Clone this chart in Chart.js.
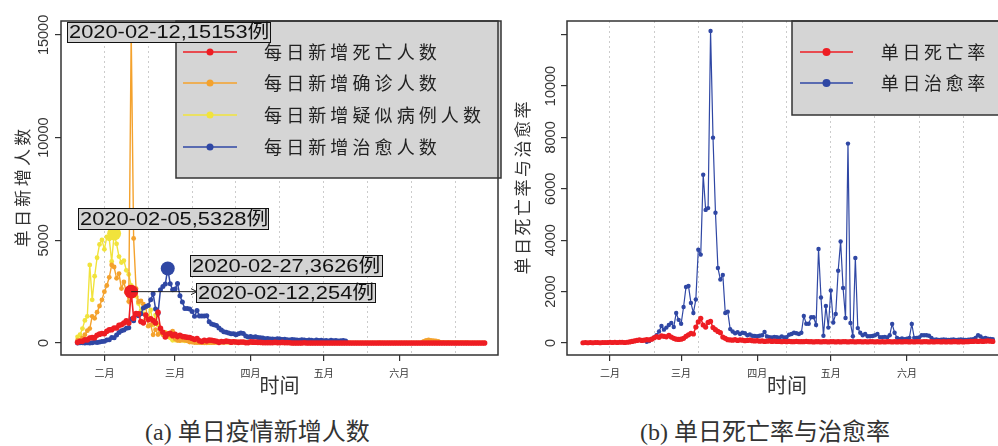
<!DOCTYPE html>
<html>
<head>
<meta charset="utf-8">
<script src="https://cdn.jsdelivr.net/npm/chart.js@4.4.1/dist/chart.umd.min.js"></script>
<style>
  html, body { margin: 0; padding: 0; background: #fff; }
  body { width: 998px; height: 446px; overflow: hidden; position: relative; }
  canvas { position: absolute; top: 0; }
  #chartA { left: 0; }
  #chartB { left: 505px; }
  .caption { position: absolute; top: 419px; font-size: 24px; line-height: 26px; color: #333;
    font-family: "Liberation Serif", "Noto Sans CJK SC", serif; white-space: nowrap; }
</style>
</head>
<body>
<canvas id="chartA" width="505" height="400"></canvas>
<canvas id="chartB" width="510" height="400"></canvas>
<div class="caption" style="left:145px">(a) 单日疫情新增人数</div>
<div class="caption" style="left:640px">(b) 单日死亡率与治愈率</div>
<script>
// x axis = day of year 2020 (Jan 1 = 0)
const monthDays = [31, 60, 91, 121, 152];
const monthLabels = ['二月', '三月', '四月', '五月', '六月'];
const gridDays = [31, 49, 67, 85, 103, 121, 139, 157, 175];

// (a) daily new counts, starting 2020-01-21
const startA = '2020-01-21';
const newDeaths = [
  30, 80, 80, 160, 150, 240, 260, 260, 380, 430,
  460, 450, 570, 640, 650, 730, 730, 860, 890, 970,
  1080, 970, 2500, 1210, 1430, 1420, 1050, 980, 1360, 1140,
  1180, 1090, 970, 1500, 710, 520, 290, 440, 470, 350,
  420, 310, 380, 310, 300, 280, 270, 220, 170, 220,
  110, 70, 130, 100, 140, 130, 110, 80, 30, 70,
  60, 90, 70, 40, 60, 50, 30, 50, 50, 10,
  10, 60, 40, 40, 30, 30, 20, 10, 20, 20,
  10, 30, 20, 10, 30, 10, 20, 10, 0, 0,
  0, 0, 0, 10, 0, 0, 0, 0, 0, 0,
  0, 0, 0, 0, 0, 0, 0, 0, 0, 0,
  0, 0, 0, 0, 0, 0, 0, 0, 0, 0,
  0, 0, 0, 0, 0, 0, 0, 0, 0, 0,
  0, 0, 0, 0, 0, 0, 0, 0, 0, 0,
  0, 0, 0, 0, 0, 0, 0, 0, 0, 0,
  0, 0, 0, 0, 0, 0, 0, 0, 0, 0,
  0, 0, 0, 0, 0, 0, 0, 0
];
const newConfirmed = [
  140, 130, 250, 400, 600, 700, 1300, 1200, 1500, 1800,
  2100, 2500, 2800, 3200, 3800, 3700, 3150, 3380, 2650, 2970,
  2470, 2015, 15153, 5090, 2641, 2009, 2048, 1886, 1749, 820,
  889, 397, 648, 409, 508, 406, 433, 327, 427, 573,
  202, 125, 119, 139, 143, 99, 44, 40, 19, 17,
  24, 15, 8, 11, 20, 16, 13, 34, 39, 41,
  46, 39, 78, 47, 67, 55, 54, 45, 31, 48,
  36, 35, 31, 19, 30, 39, 32, 41, 62, 42,
  46, 99, 108, 89, 46, 26, 27, 16, 12, 16,
  11, 30, 11, 10, 12, 11, 3, 6, 22, 4,
  12, 2, 1, 2, 1, 1, 2, 4, 1, 1,
  14, 17, 7, 3, 8, 4, 5, 7, 6, 6,
  2, 4, 3, 2, 11, 7, 1, 5, 5, 2,
  4, 2, 2, 5, 6, 4, 5, 5, 4, 3,
  3, 11, 80, 120, 150, 130, 110, 100, 80, 32,
  26, 18, 26, 22, 22, 12, 13, 21, 17, 12,
  19, 3, 3, 5, 8, 8, 4, 8
];
const newSuspected = [
  300, 400, 700, 1100, 1300, 3800, 2100, 3250, 4150, 4800,
  5020, 4560, 5170, 5070, 3970, 5328, 4830, 4210, 3920, 4010,
  3540, 3340, 2810, 2450, 2280, 1920, 1560, 1430, 1190, 1280,
  1610, 880, 1360, 880, 530, 440, 510, 450, 250, 130,
  140, 130, 120, 140, 100, 110, 80, 60, 40, 50,
  30, 30, 40, 30, 20, 40, 30, 30, 50, 40,
  30, 40, 30, 30, 40, 30, 20, 30, 40, 20,
  20, 20, 30, 20, 20, 10, 20, 20, 30, 20,
  20, 10, 10, 20, 10, 10, 20, 10, 10, 10, 10
];
const newCured = [
  0, 6, 6, 3, 11, 2, 9, 43, 21, 47,
  72, 85, 147, 157, 262, 261, 387, 510, 600, 632,
  716, 744, 1171, 1081, 1373, 1323, 1425, 1701, 1779, 1824,
  2109, 2394, 1661, 1441, 2589, 2750, 2867, 3626, 2885, 2589,
  2628, 2898, 2300, 2000, 1681, 1678, 1661, 1535, 1297, 1578,
  1318, 1318, 1318, 1328, 1032, 930, 894, 849, 732, 631,
  545, 526, 491, 447, 449, 407, 447, 492, 459, 342,
  290, 320, 280, 300, 270, 250, 240, 210, 220, 190,
  200, 180, 210, 190, 170, 180, 160, 150, 170, 160,
  150, 130, 160, 140, 120, 150, 130, 110, 140, 120,
  130, 110, 120, 100, 130, 110, 120, 100, 110, 120, 100
];
// highlighted peaks: confirmed, suspected, cured, deaths
const peakDates = ['2020-02-12', '2020-02-05', '2020-02-27', '2020-02-12'];
const peakCounts = [15153, 5328, 3626, 254];
const peakY = [15153, 5328, 3626, 2500];

// (b) daily rates
const startDeathRate = '2020-01-21';
const deathRate = [
  10, 20, 10, 20, 10, 20, 20, 10, 20, 20,
  20, 30, 20, 30, 20, 30, 30, 20, 30, 40,
  60, 80, 100, 120, 100, 110, 130, 120, 150, 200,
  250, 220, 280, 260, 240, 300, 230, 180, 150, 140,
  150, 180, 260, 320, 380, 350, 620, 820, 960, 700,
  620, 800, 840, 600, 520, 450, 400, 230, 180, 130,
  120, 110, 130, 100, 120, 110, 90, 100, 110, 90,
  80, 90, 70, 80, 60, 70, 80, 60, 70, 60,
  60, 50, 60, 50, 60, 50, 50, 60, 50, 50,
  50, 60, 50, 50, 40, 50, 50, 40, 50, 50,
  40, 50, 50, 40, 50, 40, 50, 50, 40, 50,
  50, 40, 50, 50, 40, 50, 40, 50, 50, 40,
  50, 40, 50, 40, 50, 50, 40, 50, 40, 50,
  40, 50, 50, 40, 50, 40, 50, 50, 40, 50,
  50, 40, 50, 40, 50, 50, 40, 50, 40, 50,
  40, 50, 50, 40, 50, 40, 50, 50, 60, 60,
  70, 60, 70, 60, 70, 80, 70, 60
];
const startCureRate = '2020-02-16';
const cureRate = [
  50, 80, 150, 220,
  300, 450, 660, 520, 600, 700, 780, 620, 1170, 900,
  750, 1400, 2180, 2220, 1560, 1170, 1690, 3630, 3440, 6550,
  5180, 5250, 12140, 7990, 5070, 2920, 2470, 2650, 1170, 1220,
  540, 450, 380, 420, 350, 400, 380, 300, 330, 280,
  270, 260, 280, 300, 430, 250, 230, 220, 240, 230,
  210, 250, 220, 230, 320, 350, 400, 380, 350, 400,
  1050, 750, 750, 1000, 1000, 700, 3660, 1770, 280, 1440,
  600, 2040, 800, 1130, 2810, 3950, 2140, 970, 7760, 780,
  260, 3310, 580, 400, 300, 350, 260, 260, 270, 300,
  350, 230, 230, 240, 220, 300, 740, 400, 200, 150,
  180, 150, 170, 200, 740, 200, 200, 220, 300, 300,
  300, 280, 200, 130, 140, 120, 130, 140, 130, 120,
  130, 140, 120, 130, 140, 130, 120, 130, 140, 150,
  200, 300, 250, 180, 200, 170, 160, 150
];

const RED = '#ee1d23', ORANGE = '#f4a22d', YELLOW = '#f1e33c', BLUE = '#2f47a4';

function dayOfYear(s) {
  return Math.round((Date.parse(s + 'T00:00:00Z') - Date.UTC(2020, 0, 1)) / 86400000);
}
function toPoints(start, values) {
  const d0 = dayOfYear(start);
  return values.map((v, i) => ({ x: d0 + i, y: v }));
}
function lineSet(label, color, data, order, r, w) {
  return {
    label, data, order,
    borderColor: color, backgroundColor: color, borderWidth: w,
    pointRadius: r, pointBorderWidth: 0, pointBackgroundColor: color,
    pointHoverRadius: 0, tension: 0
  };
}
function peakSet(i, color) {
  return {
    data: [{ x: dayOfYear(peakDates[i]), y: peakY[i] }], order: 0, showLine: false,
    pointRadius: 7, pointBorderWidth: 0, pointBackgroundColor: color, backgroundColor: color
  };
}

// R style decorations: frame, rotated y labels, legend box, notes
const rDecor = {
  id: 'rDecor',
  afterDraw(chart, args, o) {
    const ctx = chart.ctx, area = chart.chartArea, ys = chart.scales.y, xs = chart.scales.x;
    ctx.save();
    ctx.textAlign = 'center';
    ctx.textBaseline = 'middle';

    // legend
    const lg = o.legend;
    ctx.fillStyle = '#d5d5d5';
    ctx.fillRect(lg.x, area.top, lg.w, lg.h);
    ctx.strokeStyle = '#333';
    ctx.lineWidth = 1.5;
    ctx.strokeRect(lg.x, area.top, lg.w, lg.h);
    lg.items.forEach((it, i) => {
      const y = lg.rowY[i];
      ctx.strokeStyle = it.color;
      ctx.lineWidth = 1.5;
      ctx.beginPath();
      ctx.moveTo(lg.lineX[0], y);
      ctx.lineTo(lg.lineX[1], y);
      ctx.stroke();
      ctx.fillStyle = it.color;
      ctx.beginPath();
      ctx.arc((lg.lineX[0] + lg.lineX[1]) / 2, y, lg.r, 0, Math.PI * 2);
      ctx.fill();
      ctx.fillStyle = '#222';
      ctx.font = '18px "Noto Sans CJK SC"';
      [...it.text].forEach((ch, k) => ctx.fillText(ch, lg.textX + lg.adv * (k + 0.5), y));
    });

    // frame
    ctx.strokeStyle = '#333';
    ctx.lineWidth = 1.5;
    ctx.strokeRect(area.left, area.top, area.right - area.left, area.bottom - area.top);

    // rotated y tick labels
    ctx.fillStyle = '#333';
    ctx.font = '14.5px "Liberation Sans"';
    o.yLabels.forEach(v => {
      ctx.save();
      ctx.translate(o.yLabelX, ys.getPixelForValue(v));
      ctx.rotate(-Math.PI / 2);
      ctx.fillText(String(v), 0, 0);
      ctx.restore();
    });

    // y title, rotated, spaced chars
    ctx.font = '17px "Noto Sans CJK SC"';
    ctx.save();
    ctx.translate(o.yTitleX, (area.top + area.bottom) / 2);
    ctx.rotate(-Math.PI / 2);
    const chars = [...o.yTitle];
    const x0 = -chars.length * o.yTitleAdv / 2;
    chars.forEach((ch, k) => ctx.fillText(ch, x0 + o.yTitleAdv * (k + 0.5), 0));
    ctx.restore();

    // x title
    ctx.font = '20px "Noto Sans CJK SC"';
    ctx.fillText(o.xTitle, (area.left + area.right) / 2, 385);

    // notes on peaks
    (o.notes || []).forEach(n => {
      const [bx, by, bw, bh] = n.box;
      ctx.fillStyle = '#d3d3d3';
      ctx.fillRect(bx, by, bw, bh);
      ctx.strokeStyle = '#111';
      ctx.lineWidth = 1;
      ctx.strokeRect(bx + 0.5, by + 0.5, bw, bh);
      ctx.save();
      ctx.translate(bx + 2, by + bh / 2 + 1);
      ctx.scale(1.15, 1);
      ctx.fillStyle = '#111';
      ctx.textAlign = 'left';
      ctx.font = '19px "Liberation Sans", "Noto Sans CJK SC"';
      ctx.fillText(peakDates[n.i] + ',' + peakCounts[n.i] + '例', 0, 0);
      ctx.restore();
    });

    // arrow from death peak to its note
    if (o.arrow) {
      const px = xs.getPixelForValue(dayOfYear(peakDates[o.arrow.i]));
      const py = ys.getPixelForValue(peakY[o.arrow.i]);
      const ex = o.arrow.toX;
      ctx.strokeStyle = '#222';
      ctx.lineWidth = 1;
      ctx.beginPath();
      ctx.moveTo(px, py);
      ctx.lineTo(ex, py);
      ctx.moveTo(ex - 6, py - 3);
      ctx.lineTo(ex, py);
      ctx.lineTo(ex - 6, py + 3);
      ctx.stroke();
    }
    ctx.restore();
  }
};

function makeOptions(cfg) {
  return {
    responsive: false,
    animation: false,
    devicePixelRatio: 1,
    layout: { padding: { left: 0, top: 21, right: cfg.padRight, bottom: 0 } },
    plugins: { legend: { display: false }, tooltip: { enabled: false }, rDecor: cfg.decor },
    scales: {
      x: {
        type: 'linear', min: cfg.xMin, max: cfg.xMax, weight: 0,
        afterBuildTicks: s => { s.ticks = monthDays.map(v => ({ value: v })); },
        afterFit: s => { s.height = 45; },
        ticks: {
          autoSkip: false, maxRotation: 0, padding: 6, color: '#333',
          font: { family: 'Noto Sans CJK SC', size: 10 },
          callback: v => monthLabels[monthDays.indexOf(v)]
        },
        grid: { drawOnChartArea: false, drawTicks: true, tickLength: 6, color: '#333', lineWidth: 1.2 },
        border: { display: false }
      },
      xg: {
        type: 'linear', position: 'bottom', min: cfg.xMin, max: cfg.xMax, weight: 1,
        afterBuildTicks: s => { s.ticks = gridDays.map(v => ({ value: v })); },
        afterFit: s => { s.height = 0; },
        ticks: { display: false },
        grid: { drawTicks: false, color: '#cccccc', lineWidth: 1 },
        border: { display: false, dash: [2, 3] }
      },
      y: {
        type: 'linear', min: cfg.yMin, max: cfg.yMax,
        afterBuildTicks: s => { s.ticks = cfg.yTicks.map(v => ({ value: v })); },
        afterFit: s => { s.width = cfg.yWidth; },
        ticks: { display: false },
        grid: { drawOnChartArea: false, drawTicks: true, tickLength: 6, color: '#333', lineWidth: 1.2 },
        border: { display: false }
      }
    }
  };
}

const legendA = ['每日新增死亡人数', '每日新增确诊人数', '每日新增疑似病例人数', '每日新增治愈人数'];
const legendB = ['单日死亡率', '单日治愈率'];

new Chart(document.getElementById('chartA'), {
  type: 'line',
  data: {
    datasets: [
      lineSet(legendA[0], RED, toPoints(startA, newDeaths), 1, 2.8, 1.6),
      lineSet(legendA[1], ORANGE, toPoints(startA, newConfirmed), 3, 2.4, 1.4),
      lineSet(legendA[2], YELLOW, toPoints(startA, newSuspected), 4, 2.4, 1.4),
      lineSet(legendA[3], BLUE, toPoints(startA, newCured), 2, 2.5, 1.5),
      peakSet(0, ORANGE), peakSet(1, YELLOW), peakSet(2, BLUE), peakSet(3, RED)
    ]
  },
  options: makeOptions({
    xMin: 13.2, xMax: 192.5, yMin: -585, yMax: 15680, yWidth: 61, padRight: 4,
    yTicks: [0, 5000, 10000, 15000],
    decor: {
      yLabels: [0, 5000, 10000, 15000], yLabelX: 44,
      yTitle: '单日新增人数', yTitleX: 23, yTitleAdv: 20.3, xTitle: '时间',
      legend: {
        x: 176, w: 325, h: 157, lineX: [183, 237], textX: 262, adv: 22.1, r: 3.5,
        rowY: [52, 83, 115, 147],
        items: [
          { text: legendA[0], color: RED }, { text: legendA[1], color: ORANGE },
          { text: legendA[2], color: YELLOW }, { text: legendA[3], color: BLUE }
        ]
      },
      notes: [
        { i: 0, box: [67, 22, 203, 20] },
        { i: 1, box: [78, 208, 190, 21] },
        { i: 2, box: [190, 255, 192, 21] },
        { i: 3, box: [196, 283, 179, 19] }
      ],
      arrow: { i: 3, toX: 197 }
    }
  }),
  plugins: [rDecor]
});

new Chart(document.getElementById('chartB'), {
  type: 'line',
  data: {
    datasets: [
      lineSet(legendB[0], RED, toPoints(startDeathRate, deathRate), 1, 2.6, 1.5),
      lineSet(legendB[1], BLUE, toPoints(startCureRate, cureRate), 2, 2.2, 1.2)
    ]
  },
  options: makeOptions({
    xMin: 13.5, xMax: 192.8, yMin: -467, yMax: 12530, yWidth: 62, padRight: 8,
    yTicks: [0, 2000, 4000, 6000, 8000, 10000, 12000],
    decor: {
      yLabels: [0, 2000, 4000, 6000, 8000, 10000], yLabelX: 46,
      yTitle: '单日死亡率与治愈率', yTitleX: 18, yTitleAdv: 19.5, xTitle: '时间',
      legend: {
        x: 287, w: 215, h: 94, lineX: [295, 348], textX: 374, adv: 21.6, r: 4,
        rowY: [52, 83],
        items: [{ text: legendB[0], color: RED }, { text: legendB[1], color: BLUE }]
      }
    }
  }),
  plugins: [rDecor]
});
</script>
</body>
</html>
